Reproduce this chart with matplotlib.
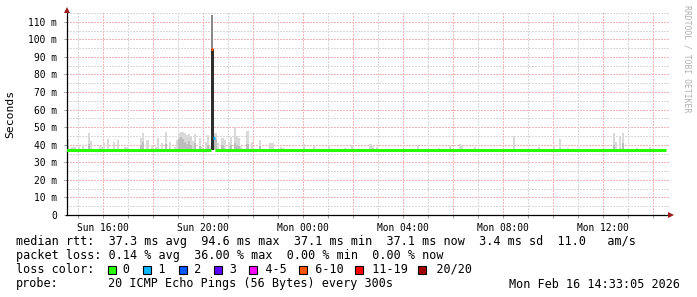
import matplotlib
matplotlib.use("Agg")
import matplotlib.pyplot as plt
from matplotlib.patches import Rectangle
from matplotlib.lines import Line2D

# ---- data (times "Day HH:MM", values in ms) ----
start, end = "Sun 14:33", "Mon 14:33"
rtt_min = 37.1

median_from = ["Sun 14:33", "Sun 20:20", "Sun 20:25", "Sun 20:30"]
median_to = ["Sun 20:20", "Sun 20:25", "Sun 20:30", "Mon 14:33"]
median_ms = [37.2, 94.6, 43.6, 37.2]
median_loss = ["0", "6-10", "1", "0"]

smoke_time = ["Sun 14:35", "Sun 14:45", "Sun 14:50", "Sun 15:00", "Sun 15:10", "Sun 15:25",
              "Sun 15:30", "Sun 15:50", "Sun 15:55", "Sun 16:00", "Sun 16:10", "Sun 16:25",
              "Sun 16:35", "Sun 16:50", "Sun 16:55", "Sun 17:30", "Sun 17:35", "Sun 17:45",
              "Sun 17:55", "Sun 18:05", "Sun 18:10", "Sun 18:20", "Sun 18:30", "Sun 18:40",
              "Sun 18:50", "Sun 18:55", "Sun 19:00", "Sun 19:05", "Sun 19:10", "Sun 19:15",
              "Sun 19:20", "Sun 19:25", "Sun 19:30", "Sun 19:35", "Sun 19:40", "Sun 19:50",
              "Sun 19:55", "Sun 20:05", "Sun 20:10", "Sun 20:15", "Sun 20:25", "Sun 20:30",
              "Sun 20:35", "Sun 20:45", "Sun 20:50", "Sun 21:00", "Sun 21:05", "Sun 21:15",
              "Sun 21:20", "Sun 21:25", "Sun 21:30", "Sun 21:45", "Sun 21:55", "Sun 22:15",
              "Sun 22:40", "Sun 22:45", "Sun 23:05", "Sun 23:10", "Mon 00:00", "Mon 00:25",
              "Mon 01:00", "Mon 01:40", "Mon 01:55", "Mon 02:40", "Mon 02:45", "Mon 02:55",
              "Mon 04:35", "Mon 05:25", "Mon 05:50", "Mon 06:15", "Mon 06:20", "Mon 06:50",
              "Mon 08:25", "Mon 09:25", "Mon 10:00", "Mon 10:15", "Mon 10:35", "Mon 12:25",
              "Mon 12:30", "Mon 12:40", "Mon 12:45", "Mon 13:20", "Mon 13:50"]
smoke_max = [43.4, 38.5, 38.7, 38.5, 39.7, 46.7,
             42.3, 39.3, 38.5, 41.0, 43.3, 41.6,
             42.5, 38.8, 38.5, 44.0, 46.7, 42.9,
             39.7, 38.6, 43.9, 41.0, 47.1, 41.6,
             38.6, 42.9, 46.5, 47.3, 47.5, 46.5,
             45.5, 46.0, 44.8, 42.0, 46.1, 43.9,
             38.8, 41.6, 45.7, 39.0, 46.7, 46.7,
             41.0, 44.0, 42.9, 41.6, 44.6, 49.9,
             45.0, 44.0, 39.0, 47.6, 41.6, 42.9,
             41.0, 41.0, 38.6, 38.4, 40.5, 39.5,
             39.5, 38.3, 40.0, 40.4, 39.2, 38.5,
             39.6, 38.3, 39.6, 40.2, 39.8, 38.5,
             45.0, 38.5, 38.7, 43.3, 38.3, 46.9,
             41.5, 44.2, 46.9, 38.3, 38.7]
# darker core of the smoke where visible (0 = none)
smoke_mid = [39.0, 0, 0, 0, 0, 40.5,
             0, 0, 0, 0, 0, 0,
             0, 0, 0, 40.0, 41.5, 0,
             0, 0, 0, 0, 40.5, 0,
             0, 0, 43.0, 44.5, 43.5, 41.5,
             40.5, 42.0, 40.0, 0, 41.0, 39.5,
             0, 0, 40.0, 0, 45.0, 43.0,
             0, 40.0, 0, 0, 40.0, 41.0,
             40.0, 39.5, 0, 40.5, 0, 39.0,
             0, 0, 0, 0, 0, 0,
             0, 0, 0, 0, 0, 0,
             0, 0, 0, 0, 0, 0,
             0, 0, 0, 0, 0, 40.0,
             0, 0, 41.0, 0, 0]

burst_time = ["Sun 20:20"]
burst_dark = [94.6]
burst_max = [113.9]

loss_labels = ["0", "1", "2", "3", "4-5", "6-10", "11-19", "20/20"]
loss_colors = ["#26ff00", "#00b8ff", "#0059ff", "#5e00ff", "#ff00ff", "#ff5500", "#ff0000", "#a10000"]

xtick_hours = ["Sun 16:00", "Sun 20:00", "Mon 00:00", "Mon 04:00", "Mon 08:00", "Mon 12:00"]
ytick_ms = [0, 10, 20, 30, 40, 50, 60, 70, 80, 90, 100, 110]

legend_rows = [
    "median rtt:  37.3 ms avg  94.6 ms max  37.1 ms min  37.1 ms now  3.4 ms sd  11.0   am/s",
    "packet loss: 0.14 % avg  36.00 % max  0.00 % min  0.00 % now",
]
probe_text = "20 ICMP Echo Pings (56 Bytes) every 300s"
stamp_text = "Mon Feb 16 14:33:05 2026"


def hrs(s):
    day, hm = s.split()
    h, m = hm.split(":")
    return (24 if day == "Mon" else 0) + int(h) + int(m) / 60


W, H = 697, 297
MONO = "DejaVu Sans Mono"
fig = plt.figure(figsize=(W / 100, H / 100), dpi=100)
fig.patch.set_facecolor("white")

# plot area: x 66.5..669.5 px, y 13..215 px
ax = fig.add_axes([66.5 / W, (H - 215) / H, 603 / W, 202 / H])
ax.set_facecolor("white")
x0 = hrs(start)
ax.set_xlim(x0, x0 + 603 / 25)
ax.set_ylim(0, 115)

# grid (dotted), minor grey, major red
grey, red = "#d9d9d9", "#f4b6b6"
dots = dict(lw=1.0, ls=(0, (1, 1)), zorder=0, antialiased=False)
for v in range(5, 116, 10):
    ax.axhline(v, color=grey, **dots)
for v in range(10, 111, 10):
    ax.axhline(v, color=red, **dots)
for hh in range(15, 39):
    ax.axvline(hh, color=red if hh % 2 == 0 else grey, **dots)

step = 5 / 60
sx = [hrs(t) for t in smoke_time]
ax.bar(sx, [m - rtt_min for m in smoke_max], bottom=rtt_min, width=step, align="edge",
       color="#d9d9d9", linewidth=0, zorder=2)
mx = [x for x, m in zip(sx, smoke_mid) if m]
mv = [m - rtt_min for m in smoke_mid if m]
ax.bar(mx, mv, bottom=rtt_min, width=step, align="edge", color="#bdbdbd", linewidth=0, zorder=2)

bx = [hrs(t) for t in burst_time]
ax.bar(bx, [m - rtt_min for m in burst_dark], bottom=rtt_min, width=step * 1.5, align="edge",
       color="#2e2e2e", linewidth=0, zorder=2)
ax.bar(bx, [m - d for m, d in zip(burst_max, burst_dark)], bottom=burst_dark, width=step,
       align="edge", color="#8a8a8a", linewidth=0, zorder=2)

# median rtt coloured by packet loss
cmap = dict(zip(loss_labels, loss_colors))
ax.hlines(median_ms, [hrs(t) for t in median_from], [hrs(t) for t in median_to],
          colors=[cmap[l] for l in median_loss], lw=2.2, zorder=4, capstyle="butt")

# axes
for s in ["top", "right"]:
    ax.spines[s].set_visible(False)
ax.spines["left"].set_linewidth(0.9)
ax.spines["bottom"].set_linewidth(0.9)
ax.set_xticks([hrs(t) for t in xtick_hours])
ax.set_xticklabels([t[:3] + " " + t[4:] for t in xtick_hours], family=MONO, fontsize=6.9)
ax.set_xticks(range(15, 39), minor=True)
ax.set_yticks(ytick_ms)
ax.set_yticklabels(["0" if v == 0 else f"{v} m" for v in ytick_ms], family=MONO, fontsize=6.9)
ax.tick_params(which="both", length=2.5, width=0.7, color="#9a9a9a", pad=4.5)
ax.tick_params(axis="x", pad=3)

# arrow heads
fig.add_artist(Line2D([67 / W], [1 - 10 / H], marker="^", ms=4.5, color="#9b1c1c", mew=0))
fig.add_artist(Line2D([671 / W], [1 - 215 / H], marker=">", ms=4.5, color="#9b1c1c", mew=0))

fig.text(10.5 / W, 1 - 114 / H, "Seconds", rotation=90, ha="center", va="center",
         family=MONO, fontsize=8.2)
fig.text(687 / W, 1 - 5 / H, "RRDTOOL / TOBI OETIKER", rotation=270, ha="center", va="top",
         family=MONO, fontsize=5.9, color="#b0b0b0")

# legend
cw = 7.05
lx = 16
baselines = [244.5, 259, 273, 287.5]
for row, yb in zip(legend_rows, baselines):
    fig.text(lx / W, 1 - yb / H, row, family=MONO, fontsize=8.43, va="baseline")

row3 = "loss color:  "
box_cols = []
for lab in loss_labels:
    box_cols.append(len(row3))
    row3 += "  " + lab + "  "
fig.text(lx / W, 1 - baselines[2] / H, row3, family=MONO, fontsize=8.43, va="baseline")
for col, c in zip(box_cols, loss_colors):
    bxp = lx + col * cw + 0.5
    fig.add_artist(Rectangle((bxp / W, 1 - (baselines[2] + 0.5) / H), 8 / W, 8 / H,
                             transform=fig.transFigure, facecolor=c, edgecolor="black", lw=0.8))

fig.text(lx / W, 1 - baselines[3] / H, "probe:", family=MONO, fontsize=8.43, va="baseline")
fig.text((lx + 13 * cw) / W, 1 - baselines[3] / H, probe_text, family=MONO, fontsize=8.43,
         va="baseline")
fig.text(680 / W, 1 - baselines[3] / H, stamp_text, family=MONO, fontsize=8.43, va="baseline",
         ha="right")

fig.savefig("out.png", dpi=100)
